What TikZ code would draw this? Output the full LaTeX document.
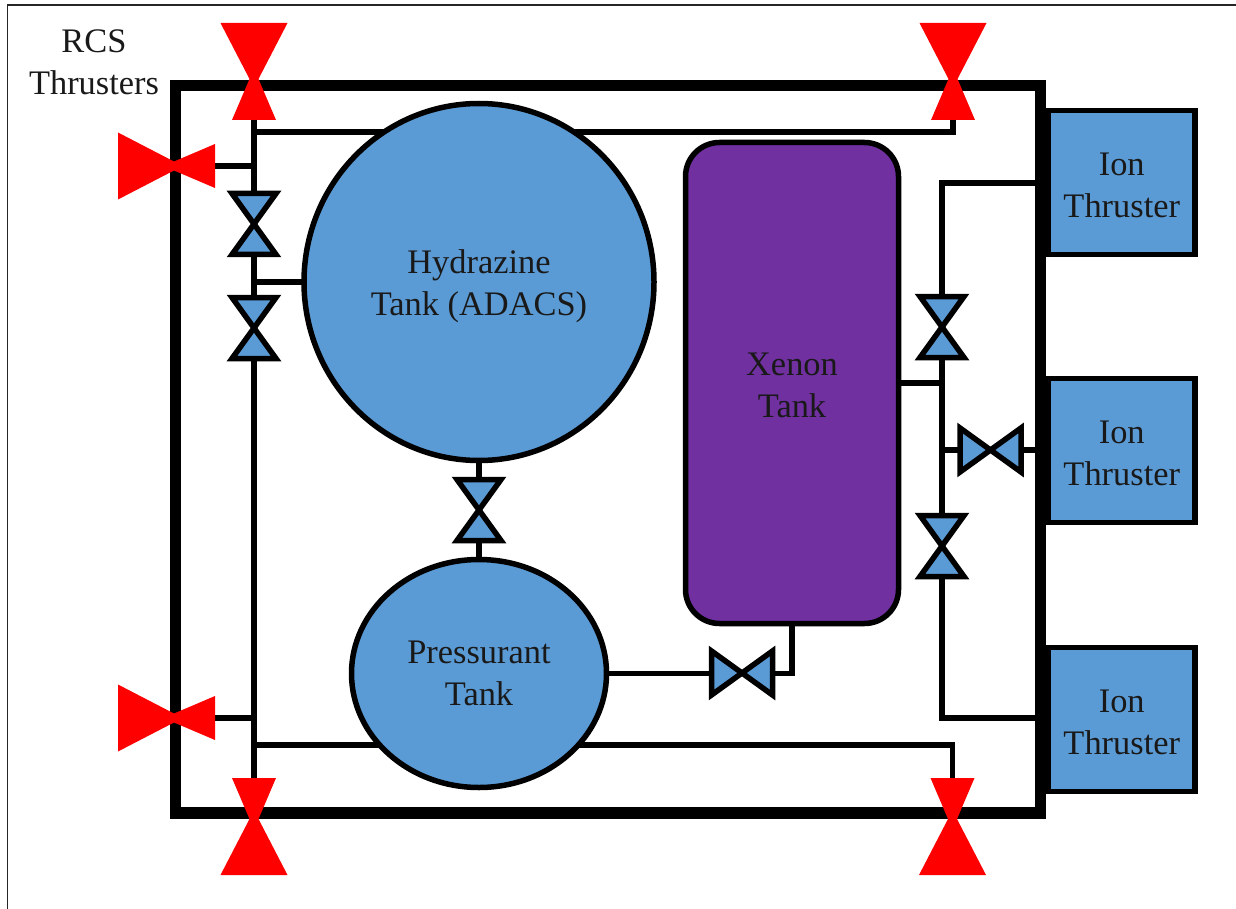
\documentclass[tikz,border=0pt]{standalone}
\usepackage{fontspec}
\setmainfont{Liberation Serif}
\usetikzlibrary{shapes.geometric,backgrounds}
\definecolor{tankblue}{HTML}{5B9BD5}
\definecolor{xenonpurple}{HTML}{7030A0}
\definecolor{valvered}{HTML}{FF0000}
\newcommand{\twolines}[3]{\raisebox{-#1}[0pt][0pt]{\begin{tabular}{@{}c@{}}#2\\#3\end{tabular}}}
\tikzset{
  x=0.5pt,y=-0.5pt,
  lbl/.style={align=center,text=black!90,font=\fontsize{17.2}{21}\selectfont,inner sep=0pt},
  tank/.style={lbl,draw=black,fill=tankblue,line width=2.75pt,ellipse,outer sep=0pt},
  thruster/.style={lbl,draw=black,fill=tankblue,line width=2.8pt,rectangle,outer sep=0pt,minimum width=73.25pt,minimum height=72pt},
  xenon/.style={lbl,draw=black,fill=xenonpurple,line width=2.75pt,rectangle,rounded corners=17pt,outer sep=0pt,minimum width=106.5pt,minimum height=240.5pt},
  hull/.style={draw=black,line width=5.75pt,rectangle,outer sep=0pt,minimum width=432.5pt,minimum height=363.75pt,inner sep=0pt},
  pipe/.style={draw=black,line width=2.75pt,line join=miter},
  blueV/.style={draw=black,fill=tankblue,line width=2.75pt,line join=miter},
  redV/.style={fill=valvered},
  pics/bluevalve/.style={code={\path[blueV] (-22,-30.5)--(22,-30.5)--(-22,30.5)--(22,30.5)--cycle;}},
  pics/redvalve/.style={code={\path[redV] (-33.5,-56)--(33.5,-56)--(4.5,0)--(22,41)--(-22,41)--(-4.5,0)--cycle;}},
}
\begin{document}
\begin{tikzpicture}
\useasboundingbox (0,0) rectangle (1236,909);
% valve centres and pipe corners
\coordinate (rtl) at (254,79);
\coordinate (rtr) at (953,79);
\coordinate (rbl) at (254,819);
\coordinate (rbr) at (952.5,819);
\coordinate (rlt) at (174,166);
\coordinate (rlb) at (174,718);
\coordinate (v1) at (254,224);
\coordinate (v2) at (254,328);
\coordinate (v3) at (479,510);
\coordinate (v4) at (942,327);
\coordinate (v5) at (942,546);
\coordinate (v6) at (990.5,450);
\coordinate (v7) at (742,673);
\coordinate (ntop) at (254,132);
\coordinate (nbot) at (254,745);
\coordinate (ctop) at (942,183);
\coordinate (cbot) at (942,718);
\coordinate (frameA) at (7.5,909);
\coordinate (frameB) at (7.5,5);
\coordinate (frameC) at (1236,5);
% nodes
\node[tank,minimum width=175pt,minimum height=178.5pt] (hyd) at (479,282) {\twolines{6.5pt}{Hydrazine}{Tank (ADACS)}};
\node[tank,minimum width=127.5pt,minimum height=114pt] (pre) at (479,673.5) {\twolines{5.5pt}{Pressurant}{Tank}};
\node[xenon] (xe) at (792,383) {\twolines{7pt}{Xenon}{Tank}};
\node[thruster] (t1) at (1121.75,182.5) {\twolines{7pt}{Ion}{Thruster}};
\node[thruster] (t2) at (1121.75,450.5) {\twolines{7pt}{Ion}{Thruster}};
\node[thruster] (t3) at (1121.75,719.5) {\twolines{7pt}{Ion}{Thruster}};
\node[lbl] (rcs) at (94,62) {RCS\\Thrusters};
\begin{scope}[on background layer]
  \draw[black!85,line width=0.8pt] (frameA) -- (frameB) -- (frameC);
  \node[hull] (box) at (608,449.25) {};
  % hydrazine network
  \draw[pipe] (rtl) -- (rbl);
  \draw[pipe] (ntop) -- (ntop -| rtr) -- (rtr);
  \draw[pipe] (rlt) -- (rlt -| v1);
  \draw[pipe] (hyd.west) -- (hyd.west -| v1);
  \draw[pipe] (rlb) -- (rlb -| v1);
  \draw[pipe] (nbot) -- (nbot -| rbr) -- (rbr);
  \draw[pipe] (hyd.south) -- (pre.north);
  % xenon network
  \draw[pipe] (pre.east) -- (pre.east -| xe.south) -- (xe.south);
  \draw[pipe] (xe.east) -- (xe.east -| v4);
  \draw[pipe] (t1.west |- ctop) -- (ctop) -- (cbot) -- (t3.west |- cbot);
  \draw[pipe] (v6 -| v4) -- (v6 -| t2.west);
\end{scope}
% blue valves
\pic at (v1) {bluevalve};
\pic at (v2) {bluevalve};
\pic at (v3) {bluevalve};
\pic at (v4) {bluevalve};
\pic at (v5) {bluevalve};
\pic[rotate=90] at (v6) {bluevalve};
\pic[rotate=90] at (v7) {bluevalve};
% red valves
\pic at (rtl) {redvalve};
\pic at (rtr) {redvalve};
\pic[rotate=180] at (rbl) {redvalve};
\pic[rotate=180] at (rbr) {redvalve};
\pic[rotate=90] at (rlt) {redvalve};
\pic[rotate=90] at (rlb) {redvalve};
\end{tikzpicture}
\end{document}
